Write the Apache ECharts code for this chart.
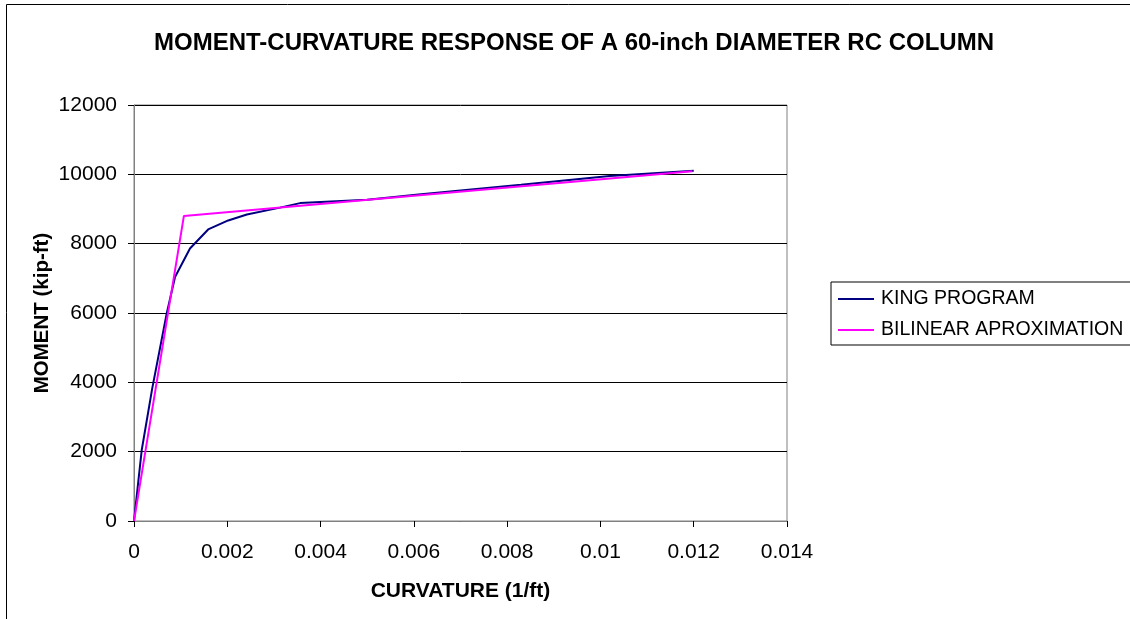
<!DOCTYPE html>
<html>
<head>
<meta charset="utf-8">
<script src="https://cdn.jsdelivr.net/npm/echarts@6/dist/echarts.min.js"></script>
<style>
html,body{margin:0;padding:0;background:#fff;}
#chart{width:1130px;height:619px;}
</style>
</head>
<body>
<div id="chart"></div>
<script>
const titleText = 'MOMENT-CURVATURE RESPONSE OF A 60-inch DIAMETER RC COLUMN';
const xName = 'CURVATURE (1/ft)';
const yName = 'MOMENT (kip-ft)';
const seriesNames = ['KING PROGRAM', 'BILINEAR APROXIMATION'];

const kingCurvature = [0, 0.000165, 0.00039, 0.0007, 0.00088, 0.0012, 0.00159, 0.00202, 0.00242, 0.00313, 0.00356, 0.005, 0.0061, 0.0083, 0.0102, 0.012];
const kingMoment    = [0, 2040, 3820, 5980, 7040, 7860, 8410, 8670, 8840, 9040, 9170, 9270, 9415, 9700, 9950, 10100];

const bilinearCurvature = [0, 0.00107, 0.01197];
const bilinearMoment    = [0, 8800, 10087];

const zip = (a, b) => a.map((v, i) => [v, b[i]]);

const chart = echarts.init(document.getElementById('chart'), null, {renderer: 'canvas'});
const font = 'Liberation Sans, Arial, sans-serif';

chart.setOption({
  backgroundColor: '#fff',
  animation: false,
  title: {
    text: titleText,
    left: 569, top: 26, textAlign: 'center',
    textStyle: {fontFamily: font, fontSize: 24, fontWeight: 'bold', color: '#000'}
  },
  graphic: [{
    type: 'rect', silent: true,
    shape: {x: 6.5, y: 4.5, width: 1200, height: 700},
    style: {fill: null, stroke: '#000', lineWidth: 1}
  }],
  legend: {
    orient: 'vertical',
    left: 831, top: 282,
    padding: [6, 12, 4, 7],
    itemGap: 9,
    itemWidth: 36, itemHeight: 2,
    borderColor: '#000', borderWidth: 1,
    icon: 'rect',
    textStyle: {fontFamily: font, fontSize: 19.5, lineHeight: 22, color: '#000', padding: [0, 0, 0, 2]},
    data: seriesNames
  },
  grid: {left: 134, right: 343, top: 105, bottom: 98, show: true, borderColor: '#808080', borderWidth: 1, backgroundColor: 'transparent'},
  xAxis: {
    type: 'value', min: 0, max: 0.014, interval: 0.002,
    name: xName, nameLocation: 'middle', nameGap: 60,
    nameTextStyle: {fontFamily: font, fontSize: 21, fontWeight: 'bold', color: '#000'},
    axisLine: {lineStyle: {color: '#808080', width: 1}},
    axisTick: {show: true, inside: false, length: 6, lineStyle: {color: '#000'}},
    axisLabel: {fontFamily: font, fontSize: 21, color: '#000', margin: 21,
      formatter: v => String(+v.toFixed(4))},
    splitLine: {show: false}
  },
  yAxis: {
    type: 'value', min: 0, max: 12000, interval: 2000,
    name: yName, nameLocation: 'middle', nameGap: 81, nameRotate: 90,
    nameMoveOverlap: false,
    nameTextStyle: {fontFamily: font, fontSize: 20.5, fontWeight: 'bold', color: '#000'},
    axisLine: {show: true, lineStyle: {color: '#808080', width: 1}},
    axisTick: {show: true, inside: false, length: 6, lineStyle: {color: '#000'}},
    axisLabel: {fontFamily: font, fontSize: 21, color: '#000', margin: 17,
      formatter: v => String(v)},
    splitLine: {show: true, lineStyle: {color: '#000', width: 1}}
  },
  series: [
    {
      name: seriesNames[0], type: 'line', data: zip(kingCurvature, kingMoment),
      showSymbol: false, symbol: 'none',
      lineStyle: {color: '#000080', width: 2}, itemStyle: {color: '#000080'}, z: 2
    },
    {
      name: seriesNames[1], type: 'line', data: zip(bilinearCurvature, bilinearMoment),
      showSymbol: false, symbol: 'none',
      lineStyle: {color: '#FF00FF', width: 2}, itemStyle: {color: '#FF00FF'}, z: 3
    }
  ]
});
</script>
</body>
</html>
